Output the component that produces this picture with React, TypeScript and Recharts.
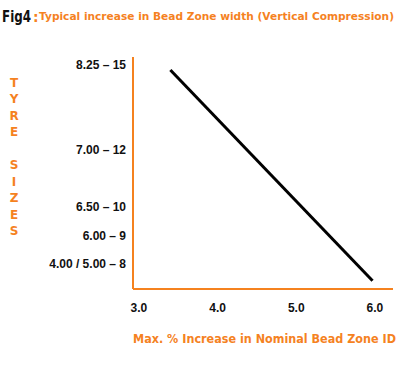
import { LineChart, Line, XAxis, YAxis } from 'recharts'

const ORANGE = '#f5821f'

// rim size value on the y scale, and the tyre size label shown for it
const rimSizes = [15, 12, 10, 9, 8]
const sizeLabels = ['8.25 – 15', '7.00 – 12', '6.50 – 10', '6.00 – 9', '4.00 / 5.00 – 8']

const increaseTicks = [3, 4, 5, 6]

// line end points: max % increase vs rim size
const lineIncrease = [3.4, 5.97]
const lineRim = [14.82, 7.4]

const data = lineIncrease.map((x, i) => ({ x, y: lineRim[i] }))

const sideLetters = ['T', 'Y', 'R', 'E', '', 'S', 'I', 'Z', 'E', 'S']

function sizeLabel(v: number) {
  const i = rimSizes.indexOf(v)
  return i >= 0 ? sizeLabels[i] : ''
}

export default function App() {
  const tickStyle = { fill: '#111', fontSize: 12, fontWeight: 700, fontFamily: 'Liberation Sans, Arial, sans-serif' }
  return (
    <div style={{ position: 'absolute', left: 0, top: 0, width: 400, height: 371, background: '#fff' }}>
      <LineChart width={400} height={371} data={data} margin={{ top: 57, right: 7, bottom: 52, left: 8 }}>
        <XAxis
          type="number"
          dataKey="x"
          domain={[2.925, 6.23]}
          allowDataOverflow
          ticks={increaseTicks}
          interval={0}
          tickFormatter={(v: number) => v.toFixed(1)}
          tickLine={false}
          tickSize={0}
          tickMargin={14}
          height={30}
          axisLine={{ stroke: ORANGE, strokeWidth: 2 }}
          tick={tickStyle}
        />
        <YAxis
          type="number"
          dataKey="y"
          domain={[7.11, 15.28]}
          allowDataOverflow
          ticks={rimSizes}
          interval={0}
          tickFormatter={sizeLabel}
          tickLine={false}
          tickSize={0}
          tickMargin={7}
          width={125}
          axisLine={{ stroke: ORANGE, strokeWidth: 2 }}
          tick={tickStyle}
        />
        <Line type="linear" dataKey="y" stroke="#000" strokeWidth={3} dot={false} isAnimationActive={false} />
      </LineChart>
      <svg width={400} height={371} style={{ position: 'absolute', left: 0, top: 0, pointerEvents: 'none' }}>
        <text x={2} y={22} fontFamily="DejaVu Sans, sans-serif" fontWeight={700} fontSize={16} fill="#111" textLength={29} lengthAdjust="spacingAndGlyphs">
          Fig4
        </text>
        <text x={33} y={22} fontFamily="DejaVu Sans, sans-serif" fontWeight={700} fontSize={14} fill={ORANGE}>
          :
        </text>
        <text x={39} y={20} fontFamily="DejaVu Sans, sans-serif" fontWeight={700} fontSize={11} fill={ORANGE} textLength={355} lengthAdjust="spacingAndGlyphs">
          Typical increase in Bead Zone width (Vertical Compression)
        </text>
        {sideLetters.map((c, i) => (
          <text key={i} x={14} y={82.3 + i * 16.5} dy="0.35em" textAnchor="middle" fontFamily="DejaVu Sans, sans-serif" fontWeight={700} fontSize={12} fill={ORANGE}>
            {c}
          </text>
        ))}
        <text x={133} y={339} dy="0.35em" fontFamily="DejaVu Sans, sans-serif" fontWeight={700} fontSize={12.5} fill={ORANGE} textLength={263} lengthAdjust="spacingAndGlyphs">
          Max. % Increase in Nominal Bead Zone ID
        </text>
      </svg>
    </div>
  )
}
